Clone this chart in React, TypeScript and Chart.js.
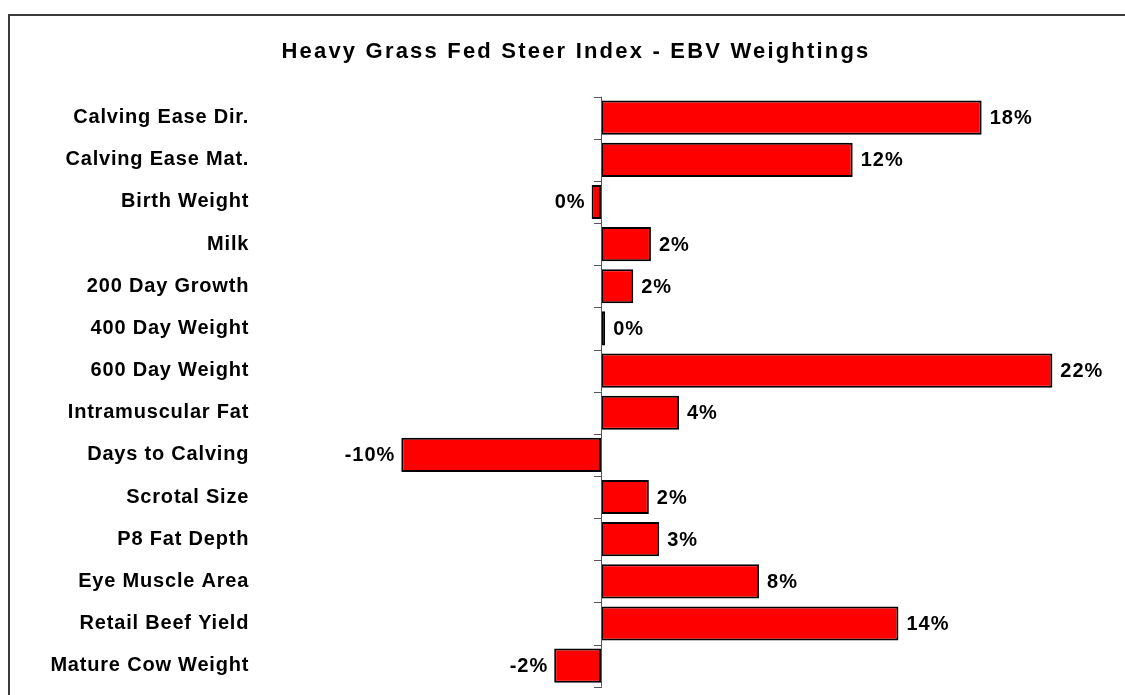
import React, { useEffect, useRef } from "react";
import { Chart, registerables } from "chart.js";

Chart.register(...registerables);

const TITLE = "Heavy Grass Fed Steer Index - EBV Weightings";

const categories = [
  "Calving Ease Dir.",
  "Calving Ease Mat.",
  "Birth Weight",
  "Milk",
  "200 Day Growth",
  "400 Day Weight",
  "600 Day Weight",
  "Intramuscular Fat",
  "Days to Calving",
  "Scrotal Size",
  "P8 Fat Depth",
  "Eye Muscle Area",
  "Retail Beef Yield",
  "Mature Cow Weight",
];

const weightings = [18.3, 12.1, -0.45, 2.4, 1.55, 0.2, 21.7, 3.75, -9.6, 2.3, 2.8, 7.6, 14.3, -2.25];

const valueLabels = ["18%", "12%", "0%", "2%", "2%", "0%", "22%", "4%", "-10%", "2%", "3%", "8%", "14%", "-2%"];

const X_MIN = -16;
const X_MAX = 24;

const FONT = '"Liberation Sans", Arial, Helvetica, sans-serif';

export default function App() {
  const ref = useRef<HTMLCanvasElement>(null);

  useEffect(() => {
    const canvas = ref.current;
    if (!canvas) return;

    const framePlugin = {
      id: "frameAndTitle",
      beforeDraw(chart: any) {
        const ctx = chart.ctx;
        ctx.save();
        ctx.fillStyle = "#ffffff";
        ctx.fillRect(0, 0, chart.width, chart.height);
        ctx.strokeStyle = "#3a3a3a";
        ctx.lineWidth = 2;
        ctx.beginPath();
        ctx.moveTo(9, chart.height + 5);
        ctx.lineTo(9, 15);
        ctx.lineTo(chart.width + 5, 15);
        ctx.stroke();
        ctx.fillStyle = "#000000";
        ctx.font = `bold 22px ${FONT}`;
        (ctx as any).letterSpacing = "2.2px";
        ctx.textAlign = "center";
        ctx.textBaseline = "alphabetic";
        ctx.fillText(TITLE, 576, 58);
        ctx.restore();
        (ctx as any).letterSpacing = "0.8px";
      },
      afterDatasetsDraw(chart: any) {
        const ctx = chart.ctx;
        const xScale = chart.scales.x;
        const area = chart.chartArea;
        const x0 = xScale.getPixelForValue(0);
        const n = categories.length;
        const catH = (area.bottom - area.top) / n;
        ctx.save();
        ctx.strokeStyle = "#555555";
        ctx.lineWidth = 1;
        ctx.beginPath();
        ctx.moveTo(Math.round(x0) + 0.5, area.top);
        ctx.lineTo(Math.round(x0) + 0.5, area.bottom);
        for (let i = 0; i <= n; i++) {
          const y = Math.round(area.top + i * catH) + 0.5;
          ctx.moveTo(x0 - 7, y);
          ctx.lineTo(x0 + 1, y);
        }
        ctx.stroke();

        const meta = chart.getDatasetMeta(0);
        ctx.fillStyle = "#000000";
        ctx.font = `bold 20px ${FONT}`;
        (ctx as any).letterSpacing = "1px";
        ctx.textBaseline = "middle";
        meta.data.forEach((el: any, i: number) => {
          const v = weightings[i];
          if (v >= 0) {
            ctx.textAlign = "left";
            ctx.fillText(valueLabels[i], el.x + 8, el.y + 1);
          } else {
            ctx.textAlign = "right";
            ctx.fillText(valueLabels[i], el.x - 6, el.y + 1);
          }
        });
        ctx.restore();
      },
    };

    const chart = new Chart(canvas, {
      type: "bar",
      data: {
        labels: categories,
        datasets: [
          {
            data: weightings,
            backgroundColor: "#ff0000",
            borderColor: "#000000",
            borderWidth: 2,
            borderSkipped: false,
            categoryPercentage: 1,
            barPercentage: 0.81,
          },
        ],
      },
      options: {
        indexAxis: "y",
        animation: false,
        responsive: true,
        maintainAspectRatio: false,
        layout: {
          padding: { top: 96.6, bottom: 8.3, left: 0, right: 24.8 },
        },
        plugins: {
          legend: { display: false },
          title: { display: false },
          tooltip: { enabled: false },
        },
        scales: {
          x: {
            display: false,
            min: X_MIN,
            max: X_MAX,
          },
          y: {
            afterFit(scale: any) {
              scale.width = 268.2;
              scale.paddingTop = 0;
              scale.paddingBottom = 0;
            },
            grid: { display: false, drawTicks: false },
            border: { display: false },
            ticks: {
              color: "#000000",
              padding: 19,
              font: { family: FONT, size: 20, weight: "bold" },
            },
          },
        },
      },
      plugins: [framePlugin],
    });

    return () => chart.destroy();
  }, []);

  return (
    <div style={{ position: "fixed", left: 0, top: 0, width: 1125, height: 695, background: "#fff" }}>
      <canvas ref={ref} />
    </div>
  );
}
